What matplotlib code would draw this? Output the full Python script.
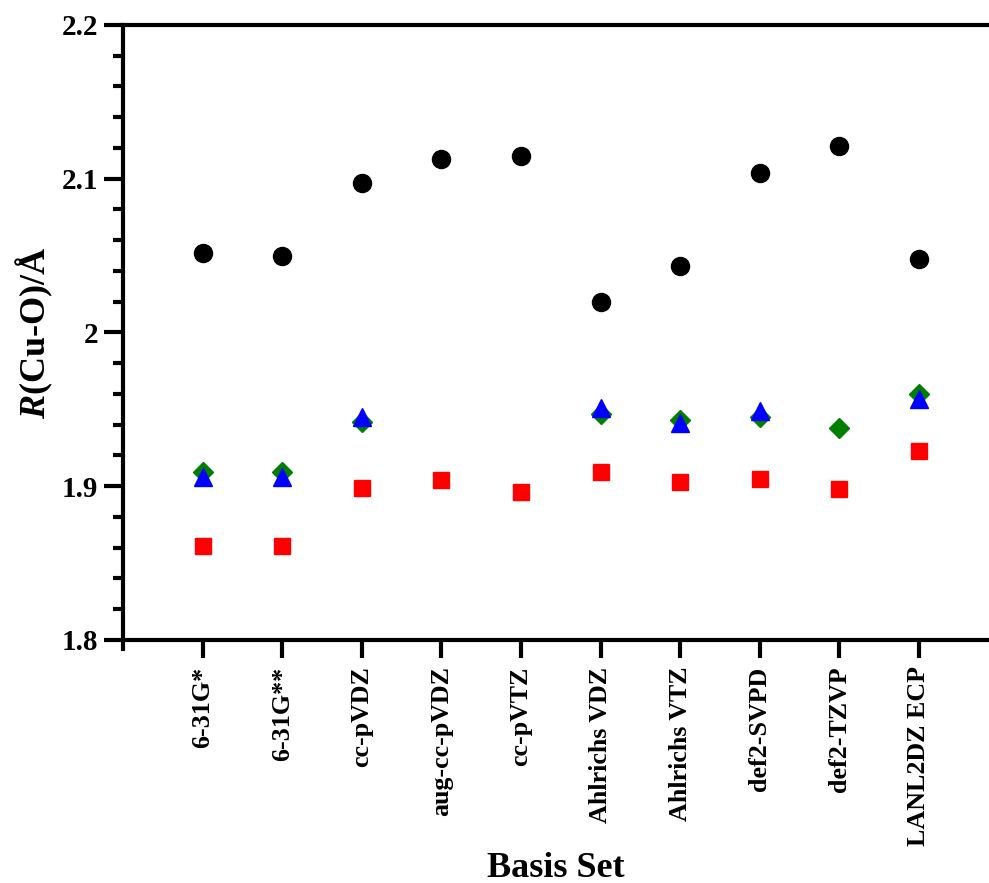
import numpy as np
import matplotlib
matplotlib.use("Agg")
import matplotlib.pyplot as plt
from matplotlib.ticker import MultipleLocator

plt.rcParams['font.family'] = ['Liberation Serif', 'DejaVu Serif']
plt.rcParams['font.weight'] = 'bold'
plt.rcParams['mathtext.fontset'] = 'custom'
plt.rcParams['mathtext.it'] = 'Liberation Serif:italic:bold'
plt.rcParams['mathtext.rm'] = 'Liberation Serif:bold'

# basis sets on the x axis
basis = ['6-31G*', '6-31G**', 'cc-pVDZ', 'aug-cc-pVDZ', 'cc-pVTZ',
         'Ahlrichs VDZ', 'Ahlrichs VTZ', 'def2-SVPD', 'def2-TZVP', 'LANL2DZ ECP']

# R(Cu-O) values
r_circle = [2.052, 2.050, 2.097, 2.113, 2.115, 2.020, 2.043, 2.104, 2.121, 2.048]
r_square = [1.861, 1.861, 1.899, 1.904, 1.896, 1.909, 1.903, 1.905, 1.898, 1.923]
r_diamond = [1.909, 1.909, 1.942, np.nan, np.nan, 1.947, 1.943, 1.945, 1.938, 1.960]
r_triangle = [1.906, 1.906, 1.945, np.nan, np.nan, 1.951, 1.941, 1.949, np.nan, 1.957]

x = np.arange(len(basis))

fig = plt.figure(figsize=(9.89, 8.83), dpi=100)
ax = fig.add_axes([0.1244, 0.2752, 0.8756, 0.6965])

ax.plot(x, r_circle, 'o', color='black', ms=13, ls='none')
ax.plot(x, r_square, 's', color='#ff0000', ms=12, ls='none')
ax.plot(x, r_diamond, 'D', color='#008000', ms=10.5, ls='none')
ax.plot(x, r_triangle, '^', color='#0000ff', ms=13, ls='none')

ax.set_xlim(-1, 9.88)
ax.set_ylim(1.8, 2.2)

ax.yaxis.set_major_locator(MultipleLocator(0.1))
ax.yaxis.set_minor_locator(MultipleLocator(0.02))
ax.set_yticks([1.8, 1.9, 2.0, 2.1, 2.2])
ax.set_yticklabels(['1.8', '1.9', '2', '2.1', '2.2'])
ax.set_xticks(x)
ax.set_xticklabels(basis, rotation=90)

for s in ['left', 'bottom', 'top']:
    ax.spines[s].set_linewidth(3)
ax.spines['right'].set_visible(False)
ax.spines['left'].set_bounds(1.794, 2.2)

ax.tick_params(axis='y', which='major', length=14, width=3, labelsize=21, pad=4)
ax.tick_params(axis='y', which='minor', length=7, width=3)
ax.tick_params(axis='x', which='major', length=13, width=3, labelsize=18.7, pad=6)

ax.set_xlabel('Basis Set', fontsize=26, fontweight='bold', labelpad=4)
ax.set_ylabel(r'$\mathit{R}$(Cu-O)/Å', fontsize=26, fontweight='bold', labelpad=5)

fig.savefig('out.png', dpi=100)
